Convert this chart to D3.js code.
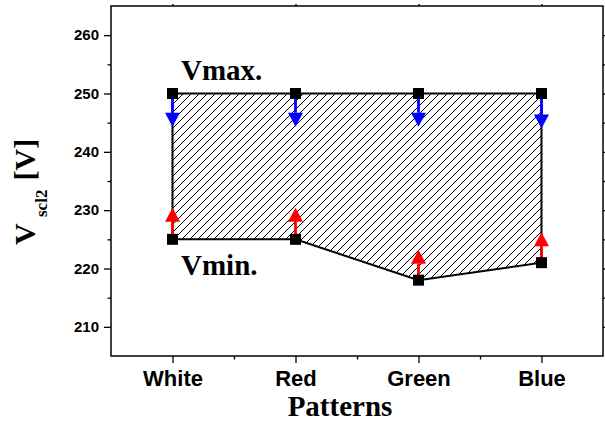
<!DOCTYPE html>
<html>
<head>
<meta charset="utf-8">
<script src="https://cdn.jsdelivr.net/npm/d3@7"></script>
<style>
  body { margin: 0; background: #fff; }
  #chart svg { display: block; }
</style>
</head>
<body>
<div id="chart"></div>
<script>
// data
const patterns = ["White", "Red", "Green", "Blue"];
const vMax = [250, 250, 250, 250];
const vMin = [225, 225, 218, 221];
// where the blue (down) and red (up) arrows end
const maxArrowTip = [244.3, 244.3, 244.3, 244];
const minArrowTip = [230.4, 230.4, 223.2, 226.2];
const yTicks = [210, 220, 230, 240, 250, 260];
const yMinorTicks = [215, 225, 235, 245, 255];
const yDomain = [205, 265];

const W = 605, H = 424;
const margin = { top: 6, right: 2, bottom: 68, left: 111 },
  width = W - margin.left - margin.right,
  height = H - margin.top - margin.bottom;

const svg = d3
  .select("#chart")
  .append("svg")
  .attr("width", W)
  .attr("height", H);

const g = svg.append("g").attr("transform", `translate(${margin.left},${margin.top})`);

const x = d3.scalePoint().domain(patterns).range([0, width]).padding(0.5);
// index scale, used only for the minor ticks between categories
const xi = d3.scaleLinear().domain([-0.5, patterns.length - 0.5]).range([0, width]);
const y = d3.scaleLinear().domain(yDomain).range([height, 0]);

const rows = patterns.map((p, i) => ({
  p: p,
  max: vMax[i],
  min: vMin[i],
  maxTip: maxArrowTip[i],
  minTip: minArrowTip[i],
}));

// hatch pattern
const defs = svg.append("defs");
defs
  .append("pattern")
  .attr("id", "hatch")
  .attr("patternUnits", "userSpaceOnUse")
  .attr("width", 8)
  .attr("height", 8)
  .append("path")
  .attr("d", "M-2,2 l4,-4 M0,8 l8,-8 M6,10 l4,-4")
  .attr("stroke", "#000")
  .attr("stroke-width", 1);

const tickFont = (sel, size) =>
  sel
    .attr("font-family", "'Liberation Sans', Arial, sans-serif")
    .attr("font-size", size)
    .attr("font-weight", "bold");

// left axis
const yAxis = g
  .append("g")
  .call(d3.axisLeft(y).tickValues(yTicks).tickSize(7).tickPadding(5));
tickFont(yAxis, 15);
yAxis.selectAll("text").attr("fill", "#000");
g.append("g").call(d3.axisLeft(y).tickValues(yMinorTicks).tickSize(3.5).tickFormat(""));

// right axis ticks
g.append("g")
  .attr("transform", `translate(${width},0)`)
  .call(d3.axisRight(y).tickValues(yTicks.concat(yMinorTicks)).tickSize(3).tickFormat(""));

// bottom axis
const xAxis = g
  .append("g")
  .attr("transform", `translate(0,${height})`)
  .call(d3.axisBottom(x).tickSize(7).tickPadding(7));
tickFont(xAxis, 22);
xAxis.selectAll("text").attr("fill", "#000");
g.append("g")
  .attr("transform", `translate(0,${height})`)
  .call(d3.axisBottom(xi).tickValues([0.5, 1.5, 2.5]).tickSize(3.5).tickFormat(""));

// top axis ticks
g.append("g").call(d3.axisTop(x).tickSize(2).tickFormat(""));

g.selectAll(".domain").remove();
g.selectAll(".tick line").attr("stroke", "#000").attr("stroke-width", 1.3);

// frame
g.append("rect")
  .attr("width", width)
  .attr("height", height)
  .attr("fill", "none")
  .attr("stroke", "#000")
  .attr("stroke-width", 1.5);

// hatched band between Vmin and Vmax
const area = d3
  .area()
  .x((d) => x(d.p))
  .y0((d) => y(d.min))
  .y1((d) => y(d.max));

g.append("path")
  .datum(rows)
  .attr("d", area)
  .attr("fill", "url(#hatch)")
  .attr("stroke", "#000")
  .attr("stroke-width", 2)
  .attr("stroke-linejoin", "miter");

// arrows
const headW = 7.5, headH = 14;
function arrow(from, tip, color) {
  g.selectAll(null)
    .data(rows)
    .enter()
    .append("line")
    .attr("x1", (d) => x(d.p))
    .attr("x2", (d) => x(d.p))
    .attr("y1", (d) => y(d[from]))
    .attr("y2", (d) => {
      const dir = Math.sign(y(d[tip]) - y(d[from]));
      return y(d[tip]) - dir * headH;
    })
    .attr("stroke", color)
    .attr("stroke-width", 2.8);

  g.selectAll(null)
    .data(rows)
    .enter()
    .append("path")
    .attr("d", (d) => {
      const cx = x(d.p), ty = y(d[tip]);
      const dir = Math.sign(ty - y(d[from]));
      const by = ty - dir * headH;
      return `M${cx - headW},${by}L${cx + headW},${by}L${cx},${ty}Z`;
    })
    .attr("fill", color);
}
arrow("max", "maxTip", "#0000ff");
arrow("min", "minTip", "#ff0000");

// square markers
const sq = 11;
["max", "min"].forEach((k) => {
  g.selectAll(null)
    .data(rows)
    .enter()
    .append("rect")
    .attr("x", (d) => x(d.p) - sq / 2)
    .attr("y", (d) => y(d[k]) - sq / 2)
    .attr("width", sq)
    .attr("height", sq)
    .attr("fill", "#000");
});

// labels
const serif = "'Liberation Serif', 'Times New Roman', serif";

svg.append("text")
  .attr("x", 181)
  .attr("y", 80)
  .attr("font-family", serif)
  .attr("font-weight", "bold")
  .attr("font-size", 29)
  .text("Vmax.");

svg.append("text")
  .attr("x", 181)
  .attr("y", 275)
  .attr("font-family", serif)
  .attr("font-weight", "bold")
  .attr("font-size", 29)
  .text("Vmin.");

svg.append("text")
  .attr("x", 340)
  .attr("y", 416)
  .attr("text-anchor", "middle")
  .attr("font-family", serif)
  .attr("font-weight", "bold")
  .attr("font-size", 29)
  .text("Patterns");

// y axis title, rotated
const yt = svg
  .append("text")
  .attr("transform", "translate(35,245) rotate(-90)")
  .attr("font-family", serif)
  .attr("font-weight", "bold")
  .attr("font-size", 30);
yt.append("tspan").attr("x", 0).attr("y", 0).text("V");
yt.append("tspan").attr("x", 28).attr("y", 12).attr("font-size", 17).text("scl2");
yt.append("tspan").attr("x", 64.5).attr("y", 0).text("[V]");
</script>
</body>
</html>
